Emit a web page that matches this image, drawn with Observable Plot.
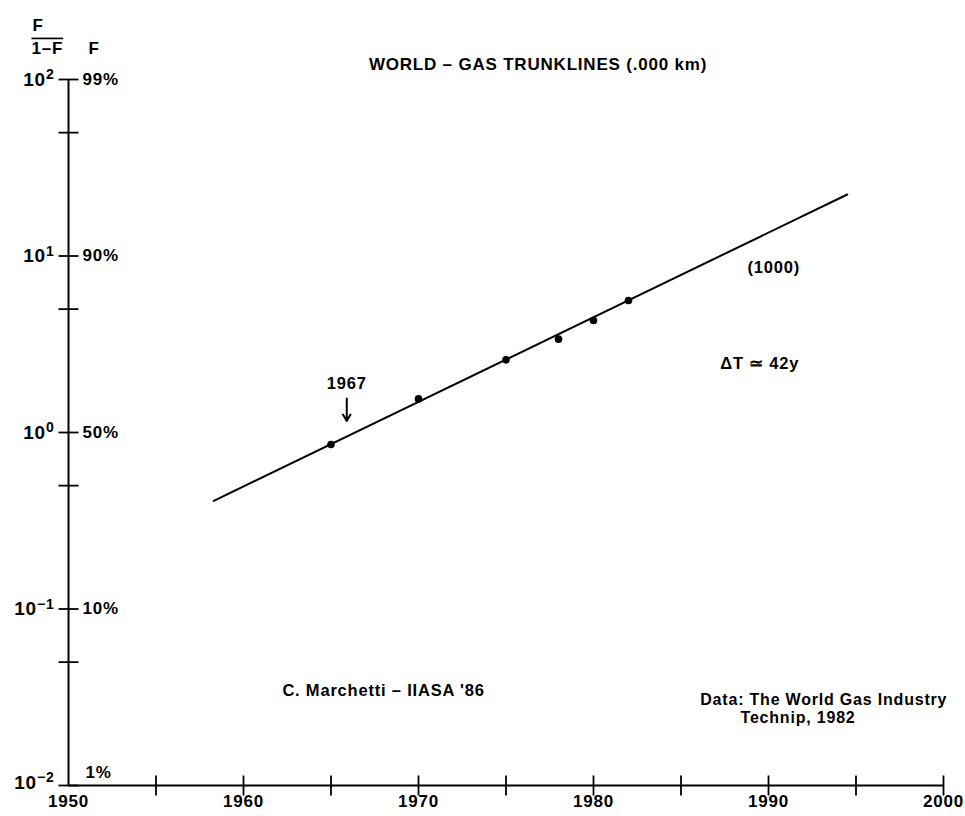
<!DOCTYPE html>
<html><head><meta charset="utf-8">
<script src="https://cdn.jsdelivr.net/npm/d3@7"></script>
<script src="https://cdn.jsdelivr.net/npm/@observablehq/plot@0.6"></script>
<style>body{margin:0;background:#fff}</style>
</head><body><div id="chart"></div>
<script>
// Observed data points: year and F/(1-F)
const years = [1965, 1970, 1975, 1978, 1980, 1982];
const ratios = [0.855, 1.55, 2.58, 3.38, 4.31, 5.60];
// Fitted logistic line (end points)
const fitYears = [1958.3, 1994.5];
const fitRatios = [0.41, 22.3];
// Axis ticks and labels
const decadeTicks = [0.01, 0.1, 1, 10, 100];
const decadeExponents = ["−2", "−1", "0", "1", "2"];
const percentLabels = ["1%", "10%", "50%", "90%", "99%"];
const minorTicks = [0.05, 0.5, 5, 50];
const xTicks = [1955, 1960, 1965, 1970, 1975, 1980, 1985, 1990, 1995, 2000];
const xLabels = [1950, 1960, 1970, 1980, 1990, 2000];
// Annotations
const titleText = "WORLD – GAS TRUNKLINES (.000 km)";
const arrowYear = 1965.9;
const arrowFrom = 1.56, arrowTo = 1.16;
const centeredNotes = [
  {x: 1965.9, y: 1.9, text: "1967"},
  {x: 1990.3, y: 8.6, text: "(1000)"},
  {x: 1989.5, y: 2.45, text: "ΔT ≃ 42y"},
  {x: 1968.0, y: 0.0345, text: "C. Marchetti – IIASA '86"}
];
const leftNotes = [
  {x: 1986.1, y: 0.0307, text: "Data: The World Gas Industry"},
  {x: 1988.4, y: 0.0243, text: "Technip, 1982"}
];

const points = years.map((y, i) => ({year: y, ratio: ratios[i]}));
const fit = fitYears.map((y, i) => ({year: y, ratio: fitRatios[i]}));

const hTick = {draw(ctx, size) { const r = Math.sqrt(size / Math.PI); ctx.moveTo(-r, 0); ctx.lineTo(r, 0); }};
const vTick = {draw(ctx, size) { const r = Math.sqrt(size / Math.PI); ctx.moveTo(0, -r); ctx.lineTo(0, r); }};

const font = "'Liberation Sans', Arial, sans-serif";

const plot = Plot.plot({
  width: 965,
  height: 816,
  marginLeft: 68,
  marginRight: 22,
  marginTop: 79,
  marginBottom: 31,
  x: {domain: [1950, 2000], axis: null},
  y: {type: "log", domain: [0.01, 100], axis: null},
  style: {background: "#fff", color: "#000", fontFamily: font, fontWeight: "bold", letterSpacing: "0.8px", overflow: "visible"},
  marks: [
    Plot.ruleX([1950], {stroke: "#000", strokeWidth: 2}),
    Plot.ruleY([0.01], {stroke: "#000", strokeWidth: 2}),
    Plot.dot(decadeTicks.concat(minorTicks), {y: d => d, frameAnchor: "left", symbol: hTick, r: 10, stroke: "#000", strokeWidth: 1.8, fill: "none"}),
    Plot.dot(xTicks, {x: d => d, frameAnchor: "bottom", symbol: vTick, r: 10, stroke: "#000", strokeWidth: 1.8, fill: "none"}),
    Plot.text(xLabels, {x: d => d, frameAnchor: "bottom", dy: 21, text: d => String(d), fontSize: 17, fontWeight: "bold"}),
    // y labels: powers of ten
    Plot.text(decadeTicks, {filter: d => d > 0.01, y: d => d, frameAnchor: "left", dx: -14, textAnchor: "end", fontSize: 19, fontWeight: "bold",
      text: d => "10^" + decadeExponents[decadeTicks.indexOf(d)]}),
    Plot.text(decadeTicks, {filter: d => d === 0.01, y: d => d, frameAnchor: "left", dx: -14, dy: -3, textAnchor: "end", fontSize: 19, fontWeight: "bold",
      text: d => "10^" + decadeExponents[decadeTicks.indexOf(d)]}),
    // y labels: percent
    Plot.text(decadeTicks, {filter: d => d > 0.01, y: d => d, frameAnchor: "left", dx: 14, textAnchor: "start", fontSize: 17, fontWeight: "bold",
      text: d => percentLabels[decadeTicks.indexOf(d)]}),
    Plot.text(decadeTicks, {filter: d => d === 0.01, y: d => d, frameAnchor: "left", dx: 17, dy: -13, textAnchor: "start", fontSize: 17, fontWeight: "bold",
      text: d => percentLabels[decadeTicks.indexOf(d)]}),
    // axis titles
    Plot.text(["F"], {frameAnchor: "top-left", dx: -36, dy: -61, fontSize: 17, fontWeight: "bold"}),
    Plot.text(["1–F"], {frameAnchor: "top-left", dx: -37, dy: -38, fontSize: 17, fontWeight: "bold"}),
    Plot.text(["F"], {frameAnchor: "top-left", dx: 20, dy: -38, fontSize: 17, fontWeight: "bold"}),
    // title
    Plot.text([titleText], {frameAnchor: "top", dx: 32, dy: -22, fontSize: 17, fontWeight: "bold"}),
    // fitted line and points
    Plot.line(fit, {x: "year", y: "ratio", stroke: "#000", strokeWidth: 2}),
    Plot.dot(points, {x: "year", y: "ratio", r: 3.8, fill: "#000"}),
    Plot.arrow([{x: arrowYear, y1: arrowFrom, y2: arrowTo}], {x1: "x", x2: "x", y1: "y1", y2: "y2", stroke: "#000", strokeWidth: 2, headLength: 7}),
    Plot.text(centeredNotes, {x: "x", y: "y", text: "text", textAnchor: "middle", fontSize: 16.5, fontWeight: "bold"}),
    Plot.text(leftNotes, {x: "x", y: "y", text: "text", textAnchor: "start", fontSize: 16, fontWeight: "bold"})
  ]
});

// superscript exponents and fraction bar
d3.select(plot).selectAll("text").each(function() {
  const t = d3.select(this);
  const s = this.textContent;
  if (s.startsWith("10^")) {
    const exp = s.slice(3);
    t.text("10");
    t.append("tspan").attr("dy", "-0.45em").attr("font-size", 14).text(exp);
  } else if (s === "1–F") {
    t.style("text-decoration", "overline");
  }
});
document.getElementById("chart").appendChild(plot);
</script>
</body></html>
